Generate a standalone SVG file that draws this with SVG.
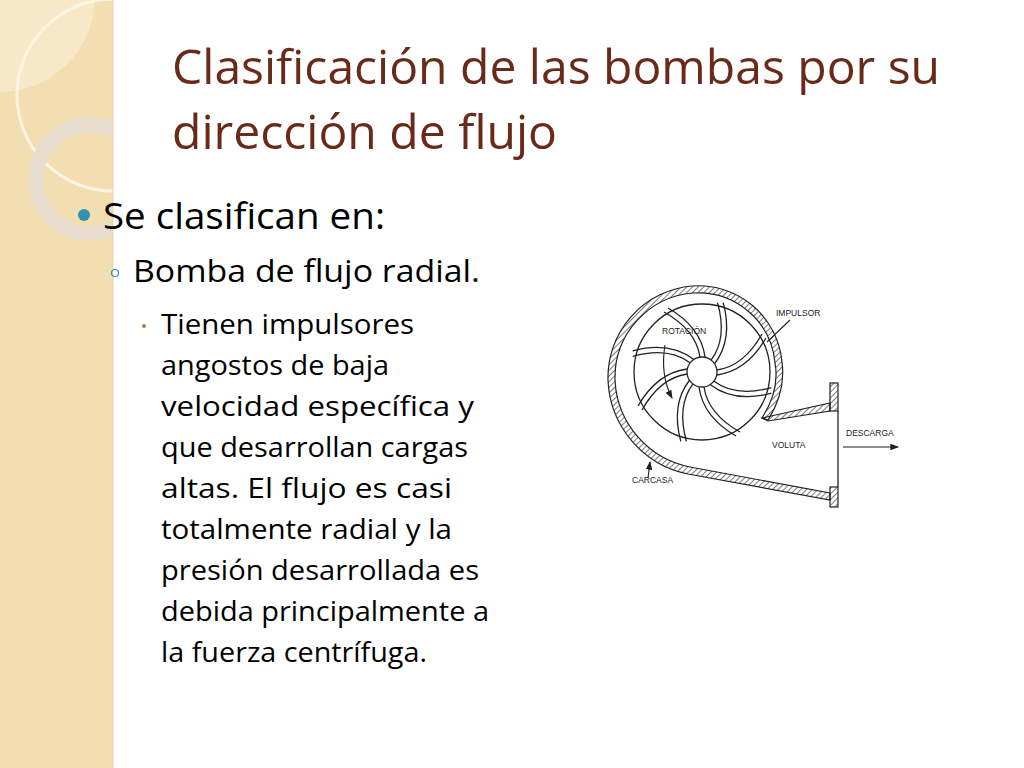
<svg xmlns="http://www.w3.org/2000/svg" width="1024" height="768" viewBox="0 0 1024 768">
<defs>
<style>
.t{font-family:"Open Sans","Lato",sans-serif;fill:#000}
.ttl{font-family:"Open Sans","Lato",sans-serif;fill:#6a2a1a;font-size:48px}
.lb{font-family:"Liberation Sans",Arial,sans-serif;font-size:8.5px;fill:#222}
.w{fill:none;stroke:#222;stroke-width:1.3}
</style>
<pattern id="hat" width="4" height="4" patternUnits="userSpaceOnUse" patternTransform="rotate(45)"><line x1="0" y1="0" x2="0" y2="4" stroke="#222" stroke-width="1.2"/></pattern>
<clipPath id="band"><rect x="0" y="0" width="113" height="768"/></clipPath>
<marker id="ar" markerWidth="8" markerHeight="6" refX="7" refY="3" orient="auto"><path d="M0,0 L8,3 L0,6 z" fill="#222"/></marker>
<g id="blade"><path d="M15,-2 Q42,-6 60,-38 M15,3 Q45,-1 64,-34" class="w"/></g>
</defs>
<rect width="1024" height="768" fill="#fff"/>
<g id="band" clip-path="url(#band)">
<rect width="113" height="768" fill="#f3deb1"/>
<path d="M0,0 H95 A95 95 0 0 1 0,92 Z" fill="#f6e8c8"/>
<circle cx="113" cy="95" r="96" fill="none" stroke="#fbf4e2" stroke-width="3"/>
<circle cx="90" cy="179" r="54" fill="none" stroke="#e6ddcf" stroke-width="15"/>
</g>
<line x1="113" y1="0" x2="113" y2="768" stroke="#e6d5b0" stroke-width="1"/>
<text class="ttl" x="172" y="84" textLength="768" lengthAdjust="spacingAndGlyphs">Clasificación de las bombas por su</text>
<text class="ttl" x="172" y="149" textLength="385" lengthAdjust="spacingAndGlyphs">dirección de flujo</text>
<circle cx="84" cy="215" r="6" fill="#2f93b3"/>
<text class="t" x="103" y="229" font-size="36" textLength="282" lengthAdjust="spacingAndGlyphs">Se clasifican en:</text>
<circle cx="115" cy="273" r="3.5" fill="none" stroke="#2f93b3" stroke-width="1.2"/>
<text class="t" x="133" y="282" font-size="31" textLength="347" lengthAdjust="spacingAndGlyphs">Bomba de flujo radial.</text>
<circle cx="144" cy="326" r="2" fill="#c8783a"/>
<g class="t" font-size="28" lengthAdjust="spacingAndGlyphs">
<text x="161" y="334" textLength="253" lengthAdjust="spacingAndGlyphs">Tienen impulsores</text>
<text x="161" y="375" textLength="228" lengthAdjust="spacingAndGlyphs">angostos de baja</text>
<text x="161" y="416" textLength="313" lengthAdjust="spacingAndGlyphs">velocidad específica y</text>
<text x="161" y="457" textLength="307" lengthAdjust="spacingAndGlyphs">que desarrollan cargas</text>
<text x="161" y="498" textLength="291" lengthAdjust="spacingAndGlyphs">altas. El flujo es casi</text>
<text x="161" y="539" textLength="291" lengthAdjust="spacingAndGlyphs">totalmente radial y la</text>
<text x="161" y="580" textLength="318" lengthAdjust="spacingAndGlyphs">presión desarrollada es</text>
<text x="161" y="621" textLength="328" lengthAdjust="spacingAndGlyphs">debida principalmente a</text>
<text x="161" y="662" textLength="266" lengthAdjust="spacingAndGlyphs">la fuerza centrífuga.</text>
</g>
<g id="pump">
<path d="M762,418 Q780,390 775,363 A77 77 0 0 0 693,293 A85 85 0 0 0 615,380 A93 93 0 0 0 690,467 L830,493 L830,500 L688,474 A100 100 0 0 1 608,380 A92 92 0 0 1 692,286 A84 84 0 0 1 782,362 Q786,392 768,420 Z" fill="url(#hat)" stroke="#222" stroke-width="1.2"/>
<path d="M762,418 L830,403 L830,411 L768,421 Z" fill="url(#hat)" stroke="#222" stroke-width="1.2"/>
<rect x="830" y="383" width="8" height="28" fill="url(#hat)" stroke="#222" stroke-width="1.2"/>
<rect x="830" y="487" width="8" height="20" fill="url(#hat)" stroke="#222" stroke-width="1.2"/>
<line x1="838" y1="411" x2="838" y2="487" stroke="#222" stroke-width="1.3"/>
<circle cx="702" cy="372" r="68" class="w"/>
<circle cx="702" cy="372" r="15" class="w"/>
<g transform="translate(702,372)">
<use href="#blade" transform="rotate(0)"/><use href="#blade" transform="rotate(45)"/>
<use href="#blade" transform="rotate(90)"/><use href="#blade" transform="rotate(135)"/>
<use href="#blade" transform="rotate(180)"/><use href="#blade" transform="rotate(225)"/>
<use href="#blade" transform="rotate(270)"/><use href="#blade" transform="rotate(315)"/>
</g>
</g>
<g id="connectors" fill="none" stroke="#222" stroke-width="1.1">
<path d="M665,345 Q660,375 672,398" marker-end="url(#ar)"/>
<line x1="790" y1="320" x2="767" y2="342"/>
<line x1="843" y1="447" x2="898" y2="447" marker-end="url(#ar)"/>
<line x1="648" y1="478" x2="650" y2="462" marker-end="url(#ar)"/>
</g>
<g id="labels">
<text class="lb" x="662" y="334">ROTACIÓN</text>
<text class="lb" x="776" y="316">IMPULSOR</text>
<text class="lb" x="846" y="436">DESCARGA</text>
<text class="lb" x="772" y="448">VOLUTA</text>
<text class="lb" x="632" y="483">CARCASA</text>
</g>
</svg>
